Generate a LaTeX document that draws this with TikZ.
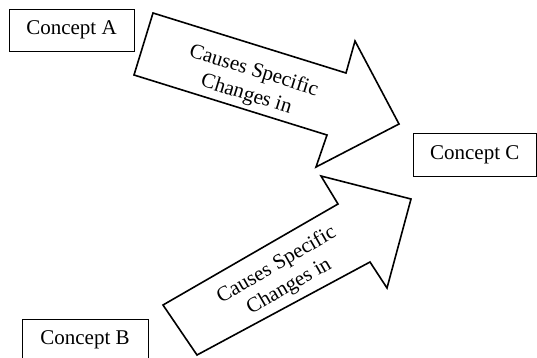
\documentclass[tikz,border=0pt]{standalone}
\usepackage{fontspec}
\setmainfont{Liberation Serif}
\begin{document}
\begin{tikzpicture}[x=1pt,y=-1pt,
  concept/.style={draw, line width=1pt, inner sep=0pt, font=\fontsize{21}{24}\selectfont},
  blockarrow/.style={draw, line width=1.6pt, line join=miter},
  arrowtext/.style={align=center, inner sep=0pt, font=\fontsize{21}{25}\selectfont}]
\useasboundingbox (0,0) rectangle (537,357);
% concept boxes
\node[concept, minimum width=125pt, minimum height=42pt] (A) at (71.5,30) {Concept A};
\node[concept, minimum width=123.5pt, minimum height=43pt] (C) at (474.75,154.5) {Concept C};
\node[concept, minimum width=126pt, minimum height=50pt, anchor=north] (Bbox) at (85,319) {};
\node[font=\fontsize{21}{24}\selectfont, inner sep=0pt] (B) at (85,340) {Concept B};
% block arrow A -> C
\coordinate (a1) at (153,13);
\coordinate (a2) at (346,73);
\coordinate (a3) at (355,41);
\coordinate (a4) at (399,124);
\coordinate (a5) at (316,167);
\coordinate (a6) at (327,135);
\coordinate (a7) at (134,75);
\draw[blockarrow] (a1) -- (a2) -- (a3) -- (a4) -- (a5) -- (a6) -- (a7) -- cycle;
\node[arrowtext, rotate=-17.3] (t1) at (250,83) {Causes Specific\\Changes in};
% block arrow B -> C
\coordinate (b1) at (163,305);
\coordinate (b2) at (338,204);
\coordinate (b3) at (321,176);
\coordinate (b4) at (411,199);
\coordinate (b5) at (387,288);
\coordinate (b6) at (370,262);
\coordinate (b7) at (197,355);
\draw[blockarrow] (b1) -- (b2) -- (b3) -- (b4) -- (b5) -- (b6) -- (b7) -- cycle;
\node[arrowtext, rotate=30] (t2) at (283,276) {Causes Specific\\Changes in};
\end{tikzpicture}
\end{document}
